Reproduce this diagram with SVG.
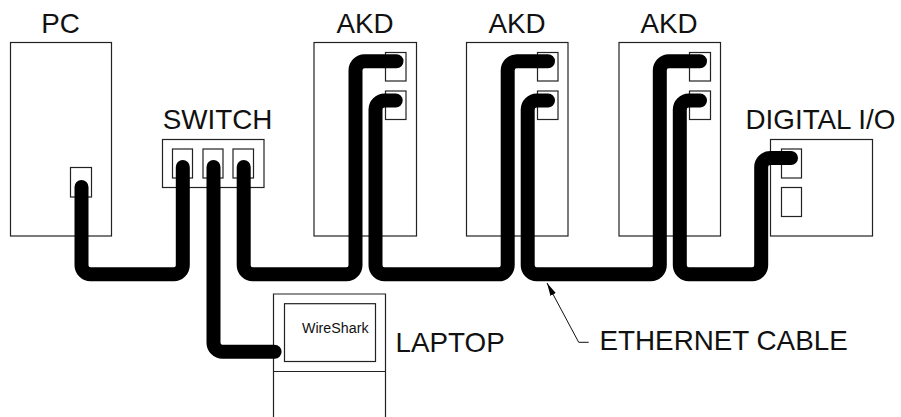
<svg xmlns="http://www.w3.org/2000/svg" width="901" height="417" viewBox="0 0 901 417">
<style>
.box{fill:none;stroke:#222;stroke-width:1.2}
.cable{fill:none;stroke:#000;stroke-width:14;stroke-linecap:round}
.leader{fill:none;stroke:#111;stroke-width:1}
text{font-family:"Liberation Sans",Arial,sans-serif;font-size:27.8px;fill:#111}
</style>
<defs>
<marker id="arrow" markerUnits="userSpaceOnUse" markerWidth="16" markerHeight="10" refX="13" refY="3" orient="auto">
<path d="M0 0L13 3L0 6Z" fill="#000"/>
</marker>
</defs>
<rect width="901" height="417" fill="#fff"/>
<g id="pc"><rect class="box" x="10.5" y="42.5" width="101" height="193.5"/><rect class="box" x="70.5" y="167.5" width="21" height="29.5"/><text x="60.5" y="32.7" text-anchor="middle">PC</text></g>
<g id="switch"><rect class="box" x="162.5" y="139.5" width="101.5" height="48"/><rect class="box" x="172.5" y="149" width="20" height="29"/><rect class="box" x="203" y="149" width="20" height="29"/><rect class="box" x="233" y="149" width="20.5" height="29"/><text x="217.5" y="129" text-anchor="middle">SWITCH</text></g>
<g id="akd1"><rect class="box" x="314" y="42.5" width="102.5" height="193.5"/><rect class="box" x="385.5" y="52.5" width="20.5" height="28.5"/><rect class="box" x="385.5" y="91" width="20.5" height="28.5"/><text x="365" y="32.7" text-anchor="middle">AKD</text></g>
<g id="akd2"><rect class="box" x="466.5" y="42.5" width="101.5" height="193.5"/><rect class="box" x="537.5" y="52.5" width="20.5" height="28.5"/><rect class="box" x="537.5" y="91" width="20.5" height="28.5"/><text x="517" y="32.7" text-anchor="middle">AKD</text></g>
<g id="akd3"><rect class="box" x="619" y="42.5" width="101.5" height="193.5"/><rect class="box" x="689.5" y="52.5" width="21" height="28.5"/><rect class="box" x="689.5" y="91" width="21" height="28.5"/><text x="669" y="32.7" text-anchor="middle">AKD</text></g>
<g id="digital-io"><rect class="box" x="770.5" y="139.5" width="102" height="96.5"/><rect class="box" x="781.5" y="149" width="20" height="29"/><rect class="box" x="781.5" y="187.5" width="20" height="29"/><text x="745.5" y="129">DIGITAL I/O</text></g>
<g id="laptop"><path class="box" d="M273.5 417V294H385.5V417M273.5 371.5H385.5"/><rect class="box" x="284.5" y="303.7" width="91" height="57.8"/><text x="302" y="333" style="font-size:14.25px">WireShark</text><text x="395.5" y="351.7">LAPTOP</text></g>
<g id="connectors">
<path class="cable" d="M81.5 187V265.3A9 9 0 0 0 90.5 274.3H173.8A9 9 0 0 0 182.8 265.3V167"/>
<path class="cable" d="M213.5 167V342.7A9 9 0 0 0 222.5 351.7H274.6"/>
<path class="cable" d="M243.7 167V265.3A9 9 0 0 0 252.7 274.3H346.5A9 9 0 0 0 355.5 265.3V70.3A9 9 0 0 1 364.5 61.3H396.5"/>
<path class="cable" d="M395.7 100.5H384.5A9 9 0 0 0 375.5 109.5V265.3A9 9 0 0 0 384.5 274.3H498.7A9 9 0 0 0 507.7 265.3V70.3A9 9 0 0 1 516.7 61.3H548"/>
<path class="cable" d="M548 100.5H536.7A9 9 0 0 0 527.7 109.5V265.3A9 9 0 0 0 536.7 274.3H650.8A9 9 0 0 0 659.8 265.3V70.3A9 9 0 0 1 668.8 61.3H700"/>
<path class="cable" d="M700 100.5H688.8A9 9 0 0 0 679.8 109.5V265.3A9 9 0 0 0 688.8 274.3H752.2A9 9 0 0 0 761.2 265.3V167A9 9 0 0 1 770.2 158H791"/>
<path class="leader" d="M588.7 342.3H578.7L547 283" marker-end="url(#arrow)"/>
</g>
<text id="cable-label" x="599.5" y="349.7">ETHERNET CABLE</text>
</svg>
